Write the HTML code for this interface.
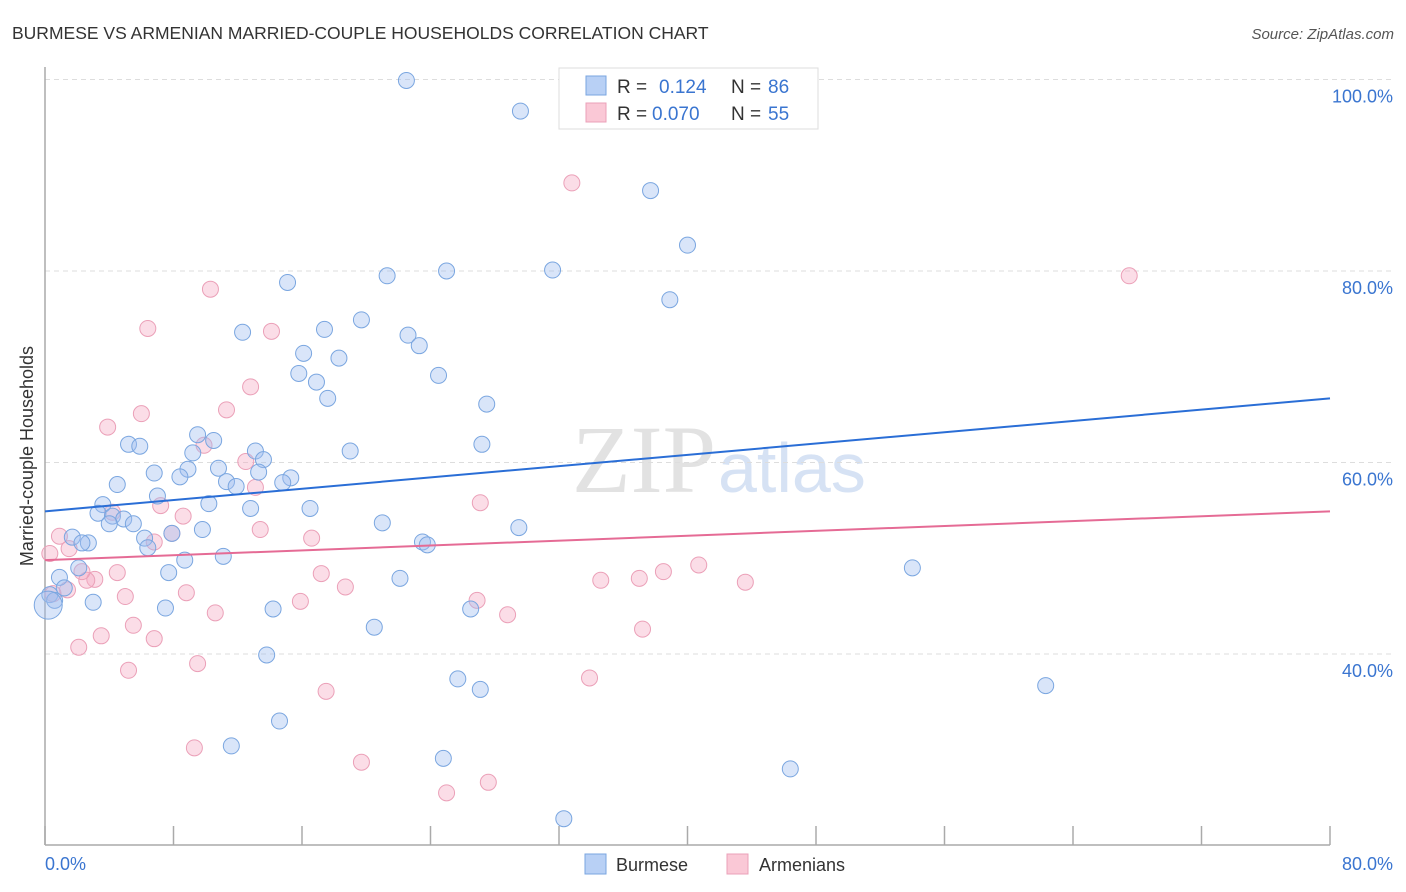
<!DOCTYPE html>
<html><head><meta charset="utf-8">
<style>
body{margin:0;background:#fff;width:1406px;height:892px;overflow:hidden;font-family:"Liberation Sans",sans-serif}
svg{display:block}
</style></head>
<body>
<svg id="chart" width="1406" height="892">
<text x="12" y="39" font-size="17.5" fill="#333">BURMESE VS ARMENIAN MARRIED-COUPLE HOUSEHOLDS CORRELATION CHART</text>
<text x="1394" y="39" font-size="15" fill="#555" font-style="italic" text-anchor="end">Source: ZipAtlas.com</text>
<text x="716" y="492" font-size="96" fill="#e2e2e2" font-family="Liberation Serif,serif" text-anchor="end">ZIP</text>
<text x="718" y="492" font-size="70" fill="#d6e2f4">atlas</text>
<g id="grid"></g>
<line x1="45" y1="67" x2="45" y2="845" stroke="#aaa" stroke-width="1.5"/>
<line x1="45" y1="845" x2="1330" y2="845" stroke="#aaa" stroke-width="1.5"/>
<g id="xticks"></g>
<g id="pts"></g>
<g id="trends"></g>
<text x="33" y="456" font-size="18" fill="#333" text-anchor="middle" transform="rotate(-90 33 456)">Married-couple Households</text>
<text x="45" y="870" font-size="18" fill="#3a75d0">0.0%</text>
<text x="1393" y="870" font-size="18" fill="#3a75d0" text-anchor="end">80.0%</text>
<g>
<rect x="559" y="68" width="259" height="61" fill="#fff" stroke="#ddd"/>
<rect x="586" y="76" width="20" height="19" fill="#b8d0f5" stroke="#7aa6e0"/>
<rect x="586" y="103" width="20" height="19" fill="#fac8d6" stroke="#eba0b8"/>
<text font-size="19" y="93"><tspan x="617" fill="#333">R = </tspan><tspan x="659" fill="#3a75d0">0.124</tspan><tspan x="731" fill="#333">N = </tspan><tspan x="768" fill="#3a75d0">86</tspan></text>
<text font-size="19" y="120"><tspan x="617" fill="#333">R = </tspan><tspan x="652" fill="#3a75d0">0.070</tspan><tspan x="731" fill="#333">N = </tspan><tspan x="768" fill="#3a75d0">55</tspan></text>
</g>
<g>
<rect x="585" y="854" width="21" height="20" fill="#b8d0f5" stroke="#7aa6e0"/>
<text x="616" y="871" font-size="18" fill="#333">Burmese</text>
<rect x="727" y="854" width="21" height="20" fill="#fac8d6" stroke="#eba0b8"/>
<text x="759" y="871" font-size="18" fill="#333">Armenians</text>
</g>
</svg>
<script>
const yTicks=[40,60,80,100];
const yTickLabels=["40.0%","60.0%","80.0%","100.0%"];
const xTicks=[0,8,16,24,32,40,48,56,64,72,80];
const burmeseX=[22.5,29.6,37.7,40.0,31.6,25.0,21.3,15.1,38.9,19.7,12.3,17.4,22.6,23.3,16.1,18.3,15.8,24.5,16.9,17.6,27.5,9.5,10.5,5.2,5.9,27.2,19.0,13.1,9.2,13.6,10.8,8.9,6.8,13.3,15.3,8.4,11.3,11.9,14.8,4.5,7.0,3.6,10.2,3.3,12.8,16.5,4.2,4.9,5.5,4.0,21.0,29.5,7.9,9.8,6.2,1.7,2.7,2.3,6.4,23.5,23.8,11.1,8.7,2.1,54.0,7.7,0.9,22.1,1.2,0.3,0.6,3.0,7.5,14.2,26.5,20.5,13.8,25.7,27.1,62.3,14.6,11.6,24.8,46.4,32.3,0.2];
const burmeseY=[99.9,96.7,88.4,82.7,80.1,80.0,79.5,78.8,77.0,74.9,73.6,73.9,73.3,72.2,71.4,70.9,69.3,69.1,68.4,66.7,66.1,62.9,62.3,61.9,61.7,61.9,61.2,61.2,61.0,60.3,59.4,59.3,58.9,59.0,58.4,58.5,58.0,57.5,57.9,57.7,56.5,55.6,55.7,54.7,55.2,55.2,54.4,54.1,53.6,53.6,53.7,53.2,52.6,53.0,52.1,52.2,51.6,51.6,51.1,51.7,51.4,50.2,49.8,49.0,49.0,48.5,48.0,47.9,46.9,46.2,45.6,45.4,44.8,44.7,44.7,42.8,39.9,37.4,36.3,36.7,33.0,30.4,29.1,28.0,22.8,45.1];
const armenianX=[32.8,67.5,10.3,6.4,14.1,12.8,11.3,6.0,3.9,9.9,12.5,13.1,27.1,7.2,8.6,7.9,0.9,13.4,16.6,6.8,1.5,0.3,4.2,40.7,38.5,17.2,4.5,3.1,2.6,34.6,37.0,43.6,18.7,8.8,5.0,15.9,26.9,0.5,10.6,28.8,5.5,37.2,3.5,6.8,2.1,9.5,5.2,33.9,17.5,9.3,19.7,27.6,25.0,2.3,1.4];
const armenianY=[89.2,79.5,78.1,74.0,73.7,67.9,65.5,65.1,63.7,61.8,60.1,57.4,55.8,55.5,54.4,52.6,52.3,53.0,52.1,51.7,51.0,50.5,54.8,49.3,48.6,48.4,48.5,47.8,47.7,47.7,47.9,47.5,47.0,46.4,46.0,45.5,45.6,46.3,44.3,44.1,43.0,42.6,41.9,41.6,40.7,39.0,38.3,37.5,36.1,30.2,28.7,26.6,25.5,48.6,46.7];
const trendBurmese=[54.9,66.7];
const trendArmenian=[49.8,54.9];

const NS="http://www.w3.org/2000/svg";
function sx(v){return 45+v*(1285/80);}
function sy(v){return 654-(v-40)*9.575;}
function mk(tag,attrs,parent){const e=document.createElementNS(NS,tag);for(const k in attrs)e.setAttribute(k,attrs[k]);parent.appendChild(e);return e;}
const grid=document.getElementById('grid');
yTicks.forEach((t,i)=>{
  const l=mk('line',{x1:45,x2:1393,y1:sy(t),y2:sy(t),stroke:'#ddd','stroke-dasharray':'5,4'},grid);
  
  
  const tx=mk('text',{x:1393,y:sy(t)+23,'font-size':18,fill:'#3a75d0','text-anchor':'end'},grid);
  tx.textContent=yTickLabels[i];
  
  
});
const xt=document.getElementById('xticks');
xTicks.forEach(t=>{
  const l=mk('line',{x1:sx(t),x2:sx(t),y1:826,y2:845,stroke:'#aaa','stroke-width':1.5},xt);
  
  
});
const pts=document.getElementById('pts');
armenianX.forEach((x,i)=>{
  const c=mk('circle',{cx:sx(x),cy:sy(armenianY[i]),r:8,fill:'rgba(245,170,195,0.4)',stroke:'#eba0b8','stroke-width':1},pts);
  
  
});
burmeseX.forEach((x,i)=>{
  const big=(i===burmeseX.length-1);
  const c=mk('circle',{cx:sx(x),cy:sy(burmeseY[i]),r:big?14:8,fill:'rgba(160,190,240,0.4)',stroke:'#7aa6e0','stroke-width':1},pts);
  
  
});
const tr=document.getElementById('trends');
const t1=mk('line',{x1:sx(0),y1:sy(trendBurmese[0]),x2:sx(80),y2:sy(trendBurmese[1]),stroke:'#2a6ed6','stroke-width':2},tr);


const t2=mk('line',{x1:sx(0),y1:sy(trendArmenian[0]),x2:sx(80),y2:sy(trendArmenian[1]),stroke:'#e56b95','stroke-width':2},tr);


</script>
</body></html>
